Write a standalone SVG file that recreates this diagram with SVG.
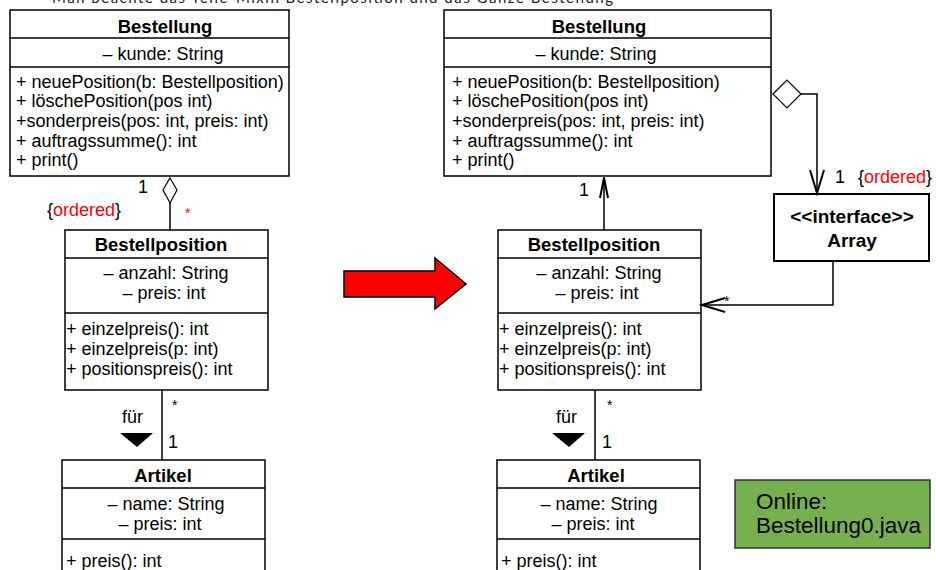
<svg xmlns="http://www.w3.org/2000/svg" width="936" height="570" viewBox="0 0 936 570">
<style>
.box{fill:#fff;stroke:#000;stroke-width:1.5}
.ln{fill:none;stroke:#000;stroke-width:1.5}
.t{font-family:"Liberation Sans",Arial,sans-serif;font-size:18px;fill:#000}
.b{font-weight:bold;font-size:18.5px}
.c{text-anchor:middle}
.r{fill:#ff0000}
.s{font-size:14px}
.arr{fill:none;stroke:#000;stroke-width:2}
</style>
<rect width="936" height="570" fill="#fff"/>
<text x="52" y="3" font-family="Lato,'Liberation Sans',sans-serif" font-size="15" fill="#222" textLength="561">Man beachte das Teile-Mixin Bestellposition und das Ganze Bestellung</text>

<g id="bestellung-left">
<rect class="box" x="10" y="10" width="279" height="166"/>
<line class="ln" x1="10" y1="38" x2="289" y2="38"/>
<line class="ln" x1="10" y1="67" x2="289" y2="67"/>
<text class="t b c" x="165" y="33">Bestellung</text>
<text class="t c" x="163" y="60">– kunde: String</text>
<text class="t" x="16" y="88">+ neuePosition(b: Bestellposition)</text>
<text class="t" x="16" y="107">+ löschePosition(pos int)</text>
<text class="t" x="16" y="127">+sonderpreis(pos: int, preis: int)</text>
<text class="t" x="16" y="147">+ auftragssumme(): int</text>
<text class="t" x="16" y="166">+ print()</text>
</g>

<g id="bestellposition-left">
<rect class="box" x="65" y="230" width="203" height="160"/>
<line class="ln" x1="65" y1="258" x2="268" y2="258"/>
<line class="ln" x1="65" y1="313" x2="268" y2="313"/>
<text class="t b c" x="161" y="251">Bestellposition</text>
<text class="t c" x="166" y="279">– anzahl: String</text>
<text class="t c" x="164" y="299">– preis: int</text>
<text class="t" x="66" y="335">+ einzelpreis(): int</text>
<text class="t" x="66" y="355">+ einzelpreis(p: int)</text>
<text class="t" x="66" y="375">+ positionspreis(): int</text>
</g>

<g id="artikel-left">
<rect class="box" x="62" y="460" width="203" height="120"/>
<line class="ln" x1="62" y1="488" x2="265" y2="488"/>
<line class="ln" x1="62" y1="539" x2="265" y2="539"/>
<text class="t b c" x="163" y="482">Artikel</text>
<text class="t c" x="166" y="510">– name: String</text>
<text class="t c" x="160" y="530">– preis: int</text>
<text class="t" x="66" y="567">+ preis(): int</text>
</g>

<g id="bestellung-right">
<rect class="box" x="444" y="10" width="327" height="166"/>
<line class="ln" x1="444" y1="38" x2="771" y2="38"/>
<line class="ln" x1="444" y1="67" x2="771" y2="67"/>
<text class="t b c" x="599" y="33">Bestellung</text>
<text class="t c" x="596" y="60">– kunde: String</text>
<text class="t" x="452" y="88">+ neuePosition(b: Bestellposition)</text>
<text class="t" x="452" y="107">+ löschePosition(pos int)</text>
<text class="t" x="452" y="127">+sonderpreis(pos: int, preis: int)</text>
<text class="t" x="452" y="147">+ auftragssumme(): int</text>
<text class="t" x="452" y="166">+ print()</text>
</g>

<g id="bestellposition-right">
<rect class="box" x="498" y="230" width="203" height="160"/>
<line class="ln" x1="498" y1="258" x2="701" y2="258"/>
<line class="ln" x1="498" y1="313" x2="701" y2="313"/>
<text class="t b c" x="594" y="251">Bestellposition</text>
<text class="t c" x="599" y="279">– anzahl: String</text>
<text class="t c" x="597" y="299">– preis: int</text>
<text class="t" x="499" y="335">+ einzelpreis(): int</text>
<text class="t" x="499" y="355">+ einzelpreis(p: int)</text>
<text class="t" x="499" y="375">+ positionspreis(): int</text>
</g>

<g id="artikel-right">
<rect class="box" x="497" y="460" width="203" height="120"/>
<line class="ln" x1="497" y1="488" x2="700" y2="488"/>
<line class="ln" x1="497" y1="539" x2="700" y2="539"/>
<text class="t b c" x="596" y="482">Artikel</text>
<text class="t c" x="599" y="510">– name: String</text>
<text class="t c" x="593" y="530">– preis: int</text>
<text class="t" x="501" y="567">+ preis(): int</text>
</g>

<g id="array">
<rect x="774" y="194" width="155" height="67" fill="#fff" stroke="#000" stroke-width="2"/>
<text class="t c" x="852" y="223" style="font-weight:bold;font-size:19px">&lt;&lt;interface&gt;&gt;</text>
<text class="t c" x="852" y="247" style="font-weight:bold;font-size:19px">Array</text>
</g>

<g id="online">
<rect x="735" y="480" width="195" height="68" fill="#77b04f" stroke="#333" stroke-width="1.5"/>
<text class="t" x="756" y="509" style="font-size:22.5px">Online:</text>
<text class="t" x="756" y="533" style="font-size:22.5px">Bestellung0.java</text>
</g>

<g id="big-arrow">
<polygon points="344,271 435,271 435,258 466,284 435,309 435,297 344,297" fill="#ff0000" stroke="#000" stroke-width="1.5"/>
</g>

<g id="connectors">
<line class="ln" x1="170" y1="203" x2="170" y2="230"/>
<polygon points="170,178 177,190 170,203 163,190" fill="#fff" stroke="#000" stroke-width="1.2"/>
<text class="t" x="138" y="193">1</text>
<text class="t" x="47" y="216">{<tspan class="r">ordered</tspan>}</text>
<text class="t r s" x="185" y="218">*</text>

<line class="ln" x1="162" y1="390" x2="162" y2="460"/>
<text class="t s" x="172" y="410">*</text>
<text class="t" x="168" y="448">1</text>
<text class="t" x="122" y="423">für</text>
<polygon points="120,433 153,433 137,447" fill="#000"/>

<line class="ln" x1="595" y1="390" x2="595" y2="460"/>
<text class="t s" x="607" y="410">*</text>
<text class="t" x="602" y="448">1</text>
<text class="t" x="556" y="423">für</text>
<polygon points="552,433 585,433 569,447" fill="#000"/>

<line class="ln" x1="604" y1="230" x2="604" y2="177"/>
<polyline class="arr" points="600,198 604,178 608,198"/>
<text class="t" x="579" y="196">1</text>

<polygon points="773,94 787,80 801,94 787,108" fill="#fff" stroke="#000" stroke-width="1.2"/>
<polyline class="ln" points="801,94 817,94 817,193"/>
<polyline class="arr" points="810,170 817,193 824,170"/>
<text class="t" x="835" y="183">1</text>
<text class="t" x="858" y="183">{<tspan class="r">ordered</tspan>}</text>

<polyline class="ln" points="833,261 833,305 702,305"/>
<polyline class="arr" points="725,298 702,305 725,312"/>
<text class="t s" x="724" y="306">*</text>
</g>
</svg>
